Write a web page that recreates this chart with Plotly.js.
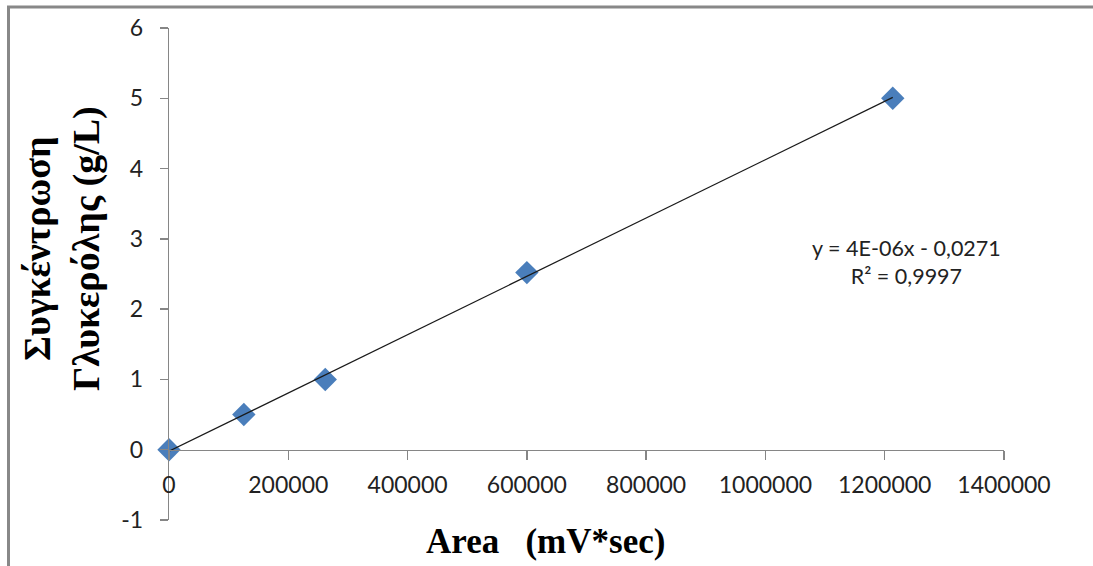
<!DOCTYPE html>
<html>
<head>
<meta charset="utf-8">
<script src="https://cdn.plot.ly/plotly-3.0.1.min.js"></script>
<style>
html,body{margin:0;padding:0;background:#fff;}
#chart{width:1093px;height:566px;}
</style>
</head>
<body>
<div id="chart"></div>
<script>
// Data
var areaValues = [0, 125500, 262000, 600000, 1213500];   // Area (mV*sec)
var concValues = [0, 0.5, 1.0, 2.52, 5.0];               // g/L
var yTickVals = [-1, 0, 1, 2, 3, 4, 5, 6];
var yTickText = ["-1", "0", "1", "2", "3", "4", "5", "6"];
var xTickVals = [0, 200000, 400000, 600000, 800000, 1000000, 1200000, 1400000];
var xTickText = ["0", "200000", "400000", "600000", "800000", "1000000", "1200000", "1400000"];
var equationText = "y = 4E-06x - 0,0271<br>R² = 0,9997";
var xTitleText = "Area\u00A0\u00A0\u00A0(mV*sec)";
var yTitleText = "Συγκέντρωση<br>Γλυκερόλης (g/L)";

// Least-squares linear trendline from the data
var n = areaValues.length, sx = 0, sy = 0, sxx = 0, sxy = 0;
for (var i = 0; i < n; i++) {
  sx += areaValues[i]; sy += concValues[i];
  sxx += areaValues[i] * areaValues[i]; sxy += areaValues[i] * concValues[i];
}
var slope = (n * sxy - sx * sy) / (n * sxx - sx * sx);
var intercept = (sy - slope * sx) / n;
var xMin = Math.min.apply(null, areaValues), xMax = Math.max.apply(null, areaValues);
var trendX = [xMin, xMax];
var trendY = [slope * xMin + intercept, slope * xMax + intercept];

var axisColor = '#868686';
var tickFont = {family: 'Lato, sans-serif', size: 23, color: '#222'};
var serif = '"Liberation Serif", "Times New Roman", serif';
var xTitleFont = {family: serif, size: 35, color: '#000', weight: 'bold'};
var yTitleFont = {family: serif, size: 38, color: '#000', weight: 'bold'};

var traces = [
  {
    x: areaValues, y: concValues, type: 'scatter', mode: 'markers',
    marker: {symbol: 'diamond', size: 18, color: '#4A7EBB', line: {width: 0}},
    cliponaxis: false, showlegend: false, hoverinfo: 'x+y'
  },
  {
    x: trendX, y: trendY, type: 'scatter', mode: 'lines',
    line: {color: '#1a1a1a', width: 1.2},
    cliponaxis: false, showlegend: false, hoverinfo: 'skip'
  }
];

var layout = {
  width: 1093, height: 566,
  margin: {l: 169, r: 89, t: 28, b: 46, pad: 0},
  paper_bgcolor: '#fff', plot_bgcolor: '#fff',
  showlegend: false,
  xaxis: {
    range: [0, 1400000], tickvals: xTickVals, ticktext: xTickText,
    anchor: 'free', position: 1 / 7,
    showline: true, linecolor: axisColor, linewidth: 1.3,
    ticks: 'outside', ticklen: 9, tickcolor: axisColor, tickwidth: 1.3,
    ticklabelstandoff: 5,
    showgrid: false, zeroline: false, tickfont: tickFont,
    automargin: false, fixedrange: true
  },
  yaxis: {
    range: [-1, 6], tickvals: yTickVals, ticktext: yTickText,
    showline: true, linecolor: axisColor, linewidth: 1.3,
    ticks: 'outside', ticklen: 8, tickcolor: axisColor, tickwidth: 1.3,
    ticklabelstandoff: 12,
    showgrid: false, zeroline: false, tickfont: tickFont,
    automargin: false, fixedrange: true
  },
  annotations: [
    {
      xref: 'x', yref: 'y', x: 1237000, y: 2.67,
      xanchor: 'center', yanchor: 'middle',
      text: equationText, showarrow: false, align: 'center',
      font: {family: 'Lato, sans-serif', size: 21.5, color: '#222'}
    },
    {
      xref: 'paper', yref: 'paper', x: (545 - 169) / 835, y: (520 - 541) / 492,
      xanchor: 'center', yanchor: 'middle',
      text: xTitleText, showarrow: false, font: xTitleFont
    },
    {
      xref: 'paper', yref: 'paper', x: (62 - 169) / 835, y: (520 - 249) / 492,
      xanchor: 'center', yanchor: 'middle',
      text: yTitleText, showarrow: false, textangle: -90, font: yTitleFont
    }
  ],
  shapes: [{
    type: 'rect', xref: 'paper', yref: 'paper',
    x0: (8.5 - 169) / 835, x1: 1.2, y0: -0.2, y1: 1 + (28 - 7) / 492,
    line: {color: '#888', width: 3}, fillcolor: 'rgba(0,0,0,0)', layer: 'below'
  }]
};

Plotly.newPlot('chart', traces, layout, {displayModeBar: false, staticPlot: true});
</script>
</body>
</html>
